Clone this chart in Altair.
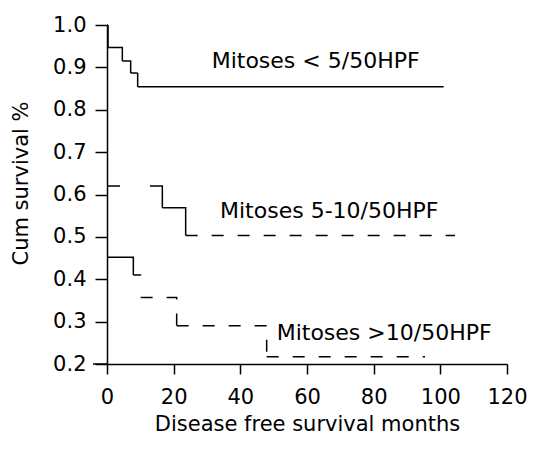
import altair as alt
import pandas as pd

# Kaplan-Meier style step curves (months, cumulative survival)
c1_times = [0, 0.3, 4.6, 7.1, 9.2, 101]
c1_surv = [1.0, 0.947, 0.915, 0.887, 0.854, 0.854]
c1_style = ["solid", "solid", "solid", "solid", "solid"]

c2_times = [0, 16.6, 23.6, 104.4]
c2_surv = [0.62, 0.569, 0.503, 0.503]
c2_style = ["sparse", "solid", "dashed"]

c3_times = [0, 7.9, 10.1, 20.9, 47.9, 95.4]
c3_surv = [0.452, 0.410, 0.357, 0.290, 0.217, 0.217]
c3_style = ["solid", "short", "dashed", "dashed", "dashed"]

label_texts = ["Mitoses < 5/50HPF", "Mitoses 5-10/50HPF", "Mitoses >10/50HPF"]
label_x = [31.4, 33.9, 50.9]
label_y = [0.915, 0.560, 0.273]

x_ticks = [0, 20, 40, 60, 80, 100, 120]
y_ticks = [0.2, 0.3, 0.4, 0.5, 0.6, 0.7, 0.8, 0.9, 1.0]

rows = []
for cname, times, surv, styles in [("c1", c1_times, c1_surv, c1_style),
                                   ("c2", c2_times, c2_surv, c2_style),
                                   ("c3", c3_times, c3_surv, c3_style)]:
    for i in range(len(times) - 1):
        seg = f"{cname}_{i}"
        pts = [(times[i], surv[i]), (times[i + 1], surv[i]), (times[i + 1], surv[i + 1])]
        for k, (t, s) in enumerate(pts):
            rows.append({"seg": seg, "ord": k, "t": t, "s": s, "style": styles[i]})
df = pd.DataFrame(rows)

xscale = alt.Scale(domain=[0, 120], nice=False)
yscale = alt.Scale(domain=[0.2, 1.0], nice=False, zero=False)

FONT = "DejaVu Sans"

lines = alt.Chart(df).mark_line(color="black", strokeWidth=1.5, strokeCap="butt").encode(
    x=alt.X("t:Q", scale=xscale,
            axis=alt.Axis(values=x_ticks, title="Disease free survival months",
                          tickSize=10, labelPadding=12, labelFontSize=21,
                          titleFontSize=21, titleFontWeight="normal",
                          titleY=66, titleBaseline="alphabetic",
                          labelFlush=False)),
    y=alt.Y("s:Q", scale=yscale,
            axis=alt.Axis(values=y_ticks, format=".1f", title="Cum survival %",
                          tickSize=12, labelPadding=9, labelFontSize=21,
                          titleFontSize=21, titleFontWeight="normal",
                          titleX=-86, titleY=158, titleAlign="center",
                          titleBaseline="middle", titleAngle=270)),
    detail="seg:N",
    order="ord:Q",
    strokeDash=alt.StrokeDash("style:N",
                              scale=alt.Scale(domain=["solid", "dashed", "sparse", "short"],
                                              range=[[1, 0], [12, 14], [13, 30, 100, 0], [7.5, 40]]),
                              legend=None),
)

labels_df = pd.DataFrame({"text": label_texts, "t": label_x, "s": label_y})
labels = alt.Chart(labels_df).mark_text(align="left", baseline="middle", fontSize=22,
                                        font=FONT, color="black").encode(
    x=alt.X("t:Q", scale=xscale), y=alt.Y("s:Q", scale=yscale), text="text:N")

ext = alt.Chart(pd.DataFrame({"a": [0]})).mark_rule(color="black", strokeWidth=1.5).encode(
    x=alt.value(-14), x2=alt.value(0), y=alt.value(339))

chart = alt.layer(lines, labels, ext).properties(
    width=400, height=339,
    autosize=alt.AutoSizeParams(type="none"),
    padding={"left": 99, "top": 17, "right": 25, "bottom": 80},
    background="white",
).configure_view(stroke=None).configure_axis(
    grid=False, domainColor="black", tickColor="black", labelColor="black",
    titleColor="black", domainWidth=1.5, tickWidth=1.5,
    labelFont=FONT, titleFont=FONT,
)

chart.save("out.html", embed_options={"renderer": "svg", "actions": False})
